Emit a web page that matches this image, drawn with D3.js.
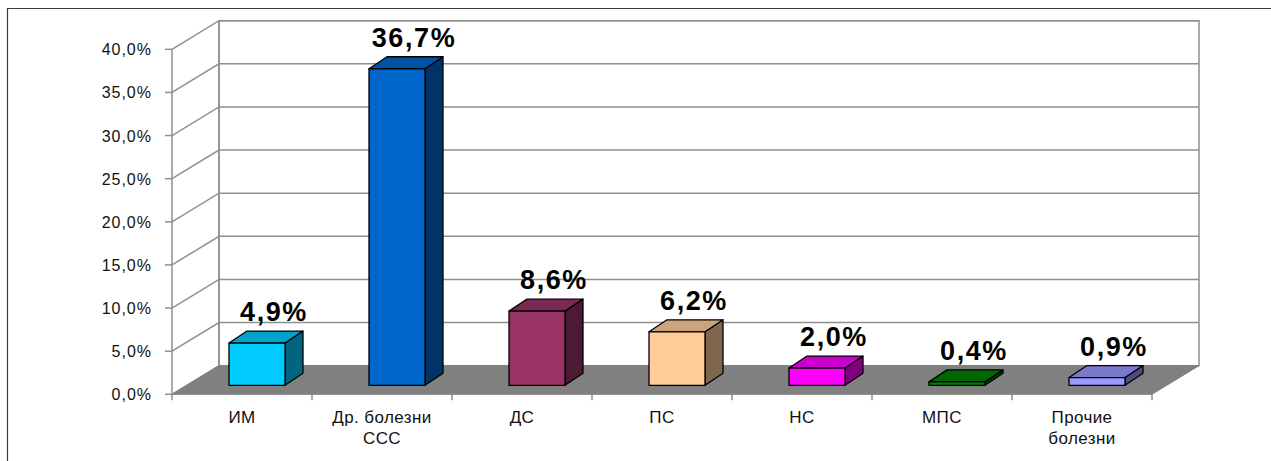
<!DOCTYPE html>
<html lang="ru">
<head>
<meta charset="utf-8">
<script src="https://cdn.jsdelivr.net/npm/d3@7"></script>
<style>
  html, body { margin: 0; padding: 0; background: #fff; }
  svg { display: block; font-family: "Liberation Sans", Arial, sans-serif; }
</style>
</head>
<body>
<svg id="chart" width="1271" height="461"></svg>
<script>
// Structure of mortality causes, share of all cases (%)
const categories = ["ИМ", "Др. болезни ССС", "ДС", "ПС", "НС", "МПС", "Прочие болезни"];
const shares = [4.9, 36.7, 8.6, 6.2, 2.0, 0.4, 0.9];
const barColors = ["#00CCFF", "#0066CC", "#993366", "#FFCC99", "#FF00FF", "#008000", "#9999FF"];
const yTicks = [0, 5, 10, 15, 20, 25, 30, 35, 40];

(function () {
  const svg = d3.select("#chart");

  // Plot box (front plane) and the depth of the 3D box
  const plotLeft = 172, plotRight = 1152, plotBottom = 394.3, plotTop = 49.3;
  const depth = { dx: 47, dy: -28.6 };           // floor/wall depth
  const barOffset = { dx: 15, dy: -9 };          // bar front plane relative to floor front
  const barDepth = { dx: 18, dy: -12 };          // bar's own depth
  const gridColor = "#8f8f8f";

  const ru = d3.formatLocale({ decimal: ",", thousands: " ", grouping: [3], currency: ["", ""] });
  const pct = v => ru.format(".1f")(v) + "%";

  const x = d3.scaleBand().domain(categories).range([plotLeft, plotRight]).paddingInner(0).paddingOuter(0);
  const y = d3.scaleLinear().domain([0, 40]).range([plotBottom, plotTop]);

  // Outer frame (top and left edges)
  svg.append("path")
    .attr("d", "M7.5,461 V8.5 H1271")
    .attr("fill", "none").attr("stroke", "#3a3a3a").attr("stroke-width", 1.2);

  // Back wall
  const bx0 = plotLeft + depth.dx, bx1 = plotRight + depth.dx;
  svg.append("rect")
    .attr("x", bx0).attr("y", y(40) + depth.dy)
    .attr("width", bx1 - bx0).attr("height", y(0) - y(40))
    .attr("fill", "#fff").attr("stroke", gridColor).attr("stroke-width", 1.5);

  // Gridlines: diagonal across the side wall, horizontal across the back wall
  const grid = svg.append("g").attr("fill", "none").attr("stroke", gridColor).attr("stroke-width", 1.5);
  yTicks.forEach(t => {
    grid.append("path")
      .attr("d", `M${plotLeft},${y(t)} L${bx0},${y(t) + depth.dy} H${bx1}`);
  });
  grid.append("line")
    .attr("x1", bx0).attr("x2", bx0)
    .attr("y1", y(40) + depth.dy).attr("y2", y(0) + depth.dy);

  // Floor
  svg.append("path")
    .attr("d", `M${plotLeft},${y(0)} H${plotRight} L${bx1},${y(0) + depth.dy} H${bx0} Z`)
    .attr("fill", "#808080").attr("stroke", "#808080").attr("stroke-width", 1);

  // Value axis
  const yAxis = svg.append("g");
  yAxis.append("line")
    .attr("x1", plotLeft).attr("x2", plotLeft).attr("y1", y(0)).attr("y2", y(40))
    .attr("stroke", gridColor).attr("stroke-width", 1.5);
  yAxis.selectAll("line.tick").data(yTicks).join("line")
    .attr("class", "tick")
    .attr("x1", plotLeft - 7).attr("x2", plotLeft)
    .attr("y1", d => y(d)).attr("y2", d => y(d))
    .attr("stroke", gridColor).attr("stroke-width", 1.5);
  yAxis.selectAll("text").data(yTicks).join("text")
    .attr("x", 152).attr("y", d => y(d) + 6)
    .attr("text-anchor", "end")
    .attr("font-size", 16).attr("letter-spacing", 1)
    .attr("fill", "#111")
    .text(pct);

  // Category axis ticks
  const xTickPos = categories.map(c => x(c)).concat([plotRight]);
  svg.append("g").selectAll("line").data(xTickPos).join("line")
    .attr("x1", d => d).attr("x2", d => d)
    .attr("y1", y(0)).attr("y2", y(0) + 6)
    .attr("stroke", gridColor).attr("stroke-width", 1.5);

  // Category labels, wrapped to fit the band
  const catG = svg.append("g")
    .attr("font-size", 17).attr("letter-spacing", 0.4).attr("fill", "#111")
    .attr("text-anchor", "middle");
  categories.forEach(c => {
    const cx = x(c) + x.bandwidth() / 2;
    const t = catG.append("text").attr("x", cx).attr("y", 422.7);
    const words = c.split(" ");
    let line = [];
    const lines = [];
    const probe = t.append("tspan");
    words.forEach(w => {
      const test = line.concat([w]).join(" ");
      probe.text(test);
      if (probe.node().getComputedTextLength() > 112 && line.length) {
        lines.push(line.join(" "));
        line = [w];
      } else {
        line.push(w);
      }
    });
    lines.push(line.join(" "));
    probe.remove();
    lines.forEach((l, i) => {
      t.append("tspan").attr("x", cx).attr("dy", i === 0 ? 0 : 21.6).text(l);
    });
  });

  // 3D bars: front in the base colour, top and side shaded darker
  const barW = x.bandwidth() * 0.4;
  const shade = (c, k) => {
    const r = d3.rgb(c);
    return d3.rgb(r.r * k, r.g * k, r.b * k).formatHex();
  };
  const bars = svg.append("g").attr("stroke", "#000").attr("stroke-width", 1.3).attr("stroke-linejoin", "round");
  const data = categories.map((c, i) => ({ c, v: shares[i], color: barColors[i] }));

  data.forEach(d => {
    const x0 = x(d.c) + x.bandwidth() / 2 - barW / 2 + barOffset.dx;
    const x1 = x0 + barW;
    const yb = y(0) + barOffset.dy;
    const yt = y(d.v) + barOffset.dy;
    const ddx = barDepth.dx, ddy = barDepth.dy;
    bars.append("path")
      .attr("d", `M${x1},${yb} L${x1 + ddx},${yb + ddy} L${x1 + ddx},${yt + ddy} L${x1},${yt} Z`)
      .attr("fill", shade(d.color, 0.5));
    bars.append("path")
      .attr("d", `M${x0},${yt} L${x0 + ddx},${yt + ddy} L${x1 + ddx},${yt + ddy} L${x1},${yt} Z`)
      .attr("fill", shade(d.color, 0.8));
    bars.append("rect")
      .attr("x", x0).attr("y", yt).attr("width", barW).attr("height", yb - yt)
      .attr("fill", d.color);
  });

  // Value labels
  svg.append("g")
    .attr("font-size", 27).attr("font-weight", "bold").attr("letter-spacing", 1.6)
    .attr("fill", "#000").attr("text-anchor", "middle")
    .selectAll("text").data(data).join("text")
    .attr("x", d => x(d.c) + x.bandwidth() / 2 + barOffset.dx + 17)
    .attr("y", d => y(d.v) + barOffset.dy + barDepth.dy - 10)
    .text(d => pct(d.v));
})();
</script>
</body>
</html>
